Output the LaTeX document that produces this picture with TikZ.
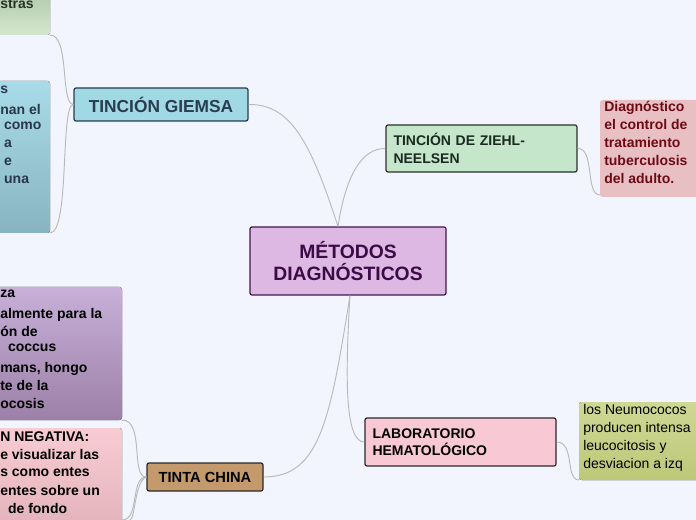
\documentclass[tikz,border=0pt]{standalone}
\usepackage{fontspec}
\setmainfont{Liberation Sans}
\definecolor{bg}{HTML}{F2F5FD}
\definecolor{cbd}{HTML}{461450}\definecolor{cfl}{HTML}{DCB8E2}\definecolor{ctx}{HTML}{3C0A46}
\definecolor{gbd}{HTML}{283C50}\definecolor{gfl}{HTML}{A0D8E3}\definecolor{gtx}{HTML}{2A3D50}
\definecolor{zbd}{HTML}{283228}\definecolor{zfl}{HTML}{C6E6CC}\definecolor{ztx}{HTML}{1A2A20}
\definecolor{lfl}{HTML}{F8C8D4}\definecolor{tfl}{HTML}{C49A6C}\definecolor{dbd}{HTML}{282828}
\definecolor{dfl}{HTML}{E8C0C4}\definecolor{dtx}{HTML}{6E0A14}
\definecolor{n1}{HTML}{CED894}\definecolor{n2}{HTML}{BEC878}
\definecolor{gtl}{HTML}{283228}\definecolor{btl}{HTML}{28374B}
\definecolor{b1}{HTML}{A8DCE8}\definecolor{b2}{HTML}{88B4C0}
\definecolor{p1}{HTML}{C8B0D8}\definecolor{p2}{HTML}{9C80A8}
\definecolor{k1}{HTML}{F8CCD4}\definecolor{k2}{HTML}{E0B0B8}
\definecolor{g1}{HTML}{A8C0A0}\definecolor{g2}{HTML}{D4E8D0}
\begin{document}
\begin{tikzpicture}[x=0.75pt,y=-0.75pt,
 box/.style={draw=#1,rounded corners=1.5pt,line width=0.9pt},
 leaf/.style={rounded corners=2pt},
 conn/.style={draw=gray!55,line width=0.7pt},
 tx/.style={anchor=north west,inner sep=0pt,font=\bfseries\fontsize{10.5}{13.5}\selectfont,align=left},
 txn/.style={anchor=north west,inner sep=0pt,font=\fontsize{10.5}{13.5}\selectfont,align=left}]
\fill[bg] (0,0) rectangle (696,520);
\clip (0,0) rectangle (696,520);
% leaf boxes
\fill[leaf,top color=g1,bottom color=g2] (-20,-20) rectangle (50,35);
\fill[leaf,top color=b1,bottom color=b2] (-20,81) rectangle (50,233);
\fill[leaf,top color=p1,bottom color=p2] (-20,287) rectangle (122,420);
\fill[leaf,top color=k1,bottom color=k2] (-20,428) rectangle (122,540);
\fill[leaf,dfl] (600,100) rectangle (720,197);
\fill[leaf,top color=n1,bottom color=n2] (579,402) rectangle (720,480);
\coordinate (gl) at (50,35); \coordinate (bl) at (50,233);
\coordinate (pl) at (122,420); \coordinate (kl) at (122,520); \coordinate (xl) at (130,520);
\coordinate (dl) at (600,195); \coordinate (nl) at (579,480);
\node[tx,text=gtl] at (0,-1) {stras};
\begin{scope}[every node/.style={tx,text=btl}]
\node at (0,86) {s}; \node at (0,104) {nan el}; \node at (0,122) {\ como};
\node at (0,140) {\ a}; \node at (0,158) {\ e}; \node at (0,176) {\ una};
\end{scope}
\begin{scope}[every node/.style={tx,text=black}]
\node at (0,290) {za}; \node at (0,308) {almente para la}; \node at (0,326) {ón de};
\node at (0,344) {\ \ coccus}; \node at (0,362) {mans, hongo}; \node at (0,380) {te de la}; \node at (0,398) {ocosis};
\node at (0,431) {N NEGATIVA:}; \node at (0,449) {e visualizar las}; \node at (0,467) {s como entes};
\node at (0,485) {entes sobre un}; \node at (0,503) {\ \ de fondo};
\end{scope}
\node[tx,text=dtx] at (604,101) {Diagnóstico\\el control de\\tratamiento\\tuberculosis\\del adulto.};
\node[txn,text=black] at (583,404) {los Neumococos\\producen intensa\\leucocitosis y\\desviacion a izq};
% main nodes
\node[box=cbd,fill=cfl,minimum width=196*0.75pt,minimum height=68*0.75pt,align=center,font=\bfseries\fontsize{14.5}{17}\selectfont,text=ctx] (c) at (348,261) {MÉTODOS\\DIAGNÓSTICOS};
\node[box=gbd,fill=gfl,minimum width=174*0.75pt,minimum height=33*0.75pt,font=\bfseries\fontsize{13}{15}\selectfont,text=gtx] (g) at (161,104.5) {TINCIÓN GIEMSA};
\node[box=zbd,fill=zfl,minimum width=191*0.75pt,minimum height=47*0.75pt,text width=176*0.75pt,align=left,font=\bfseries\fontsize{10.5}{13}\selectfont,text=ztx] (z) at (481.5,148.5) {TINCIÓN DE ZIEHL-\\NEELSEN};
\node[box=dbd,fill=lfl,minimum width=191*0.75pt,minimum height=48*0.75pt,text width=176*0.75pt,align=left,font=\bfseries\fontsize{10.5}{13}\selectfont,text=black] (l) at (460.5,442) {LABORATORIO\\HEMATOLÓGICO};
\node[box=dbd,fill=tfl,minimum width=116*0.75pt,minimum height=28*0.75pt,font=\bfseries\fontsize{11}{13}\selectfont,text=black] (t) at (205,477) {TINTA CHINA};
% connectors
\path (c.north) ++(-10,0) coordinate (c1);
\path (c.south) ++(2,0) coordinate (c2);
\path[conn] (c1) .. controls (310,140) and (290,104) .. (g.east);
\path[conn] (c1) .. controls (345,180) and (360,148) .. (z.west);
\path[conn] (c2) .. controls (345,380) and (345,442) .. (l.west);
\path[conn] (c2) .. controls (330,420) and (320,477) .. (t.east);
\path[conn] (g.west) .. controls (60,104) and (70,35) .. (gl);
\path[conn] (g.west) .. controls (60,104) and (70,233) .. (bl);
\path[conn] (t.west) .. controls (130,477) and (145,420) .. (pl);
\path[conn] (t.west) .. controls (130,477) and (140,520) .. (kl);
\path[conn] (t.west) .. controls (135,480) and (135,520) .. (xl);
\path[conn] (z.east) .. controls (595,148) and (585,195) .. (dl);
\path[conn] (l.east) .. controls (575,442) and (565,480) .. (nl);
\end{tikzpicture}
\end{document}
